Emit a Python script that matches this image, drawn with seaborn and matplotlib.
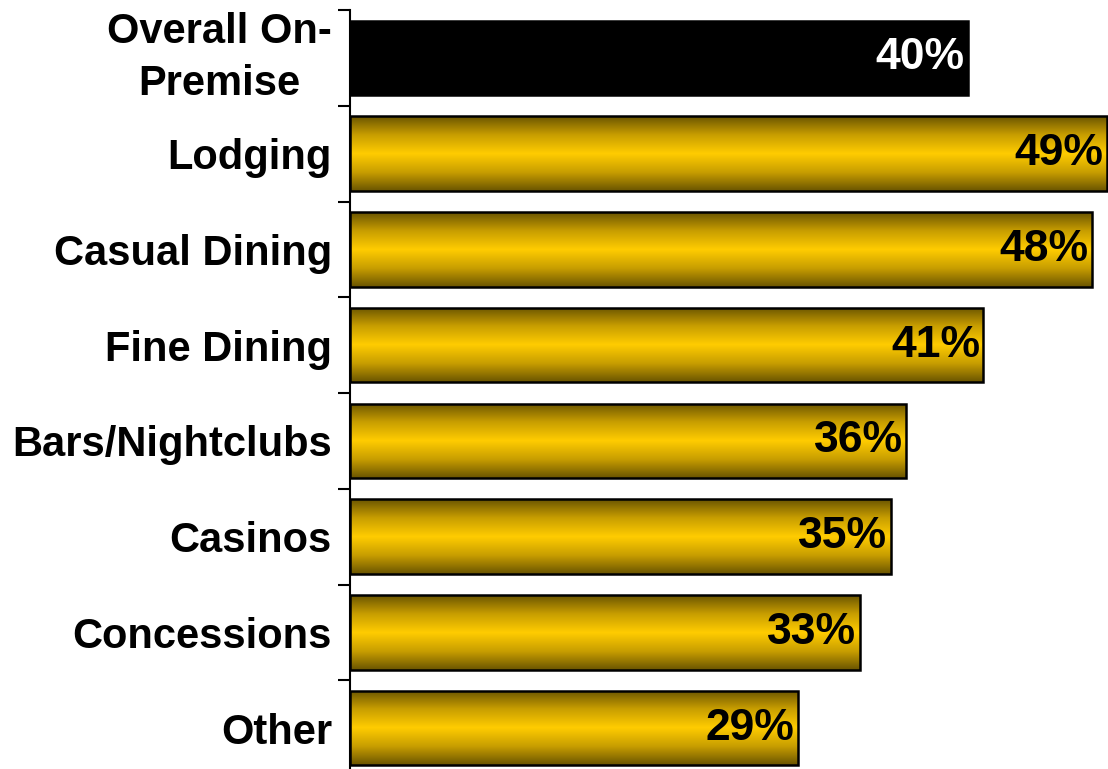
import matplotlib
matplotlib.use("Agg")
import matplotlib.pyplot as plt
import numpy as np
import pandas as pd
import seaborn as sns
from matplotlib.colors import LinearSegmentedColormap

categories = ["Overall On-\nPremise", "Lodging", "Casual Dining", "Fine Dining",
              "Bars/Nightclubs", "Casinos", "Concessions", "Other"]
values = [40, 49, 48, 41, 36, 35, 33, 29]
value_labels = ["40%", "49%", "48%", "41%", "36%", "35%", "33%", "29%"]

df = pd.DataFrame({"segment": categories, "pct": values})

sns.set_theme(style="white")
plt.rcParams["font.family"] = ["Liberation Sans", "DejaVu Sans"]

fig = plt.figure(figsize=(11.08, 7.69), dpi=100)
ax = fig.add_axes([350 / 1108, -7 / 769, 1 - 350 / 1108, 766 / 769])

sns.barplot(data=df, x="pct", y="segment", order=categories, orient="h",
            color="#FFCC00", width=0.78, edgecolor="black", linewidth=1.8, ax=ax)

# metallic gold shading: dark at top and bottom, bright in the middle
gold = LinearSegmentedColormap.from_list(
    "gold", ["#6a5400", "#c89e00", "#ffcc00", "#c89e00", "#6a5400"])
grad = np.linspace(0, 1, 256).reshape(-1, 1)

for i, patch in enumerate(ax.patches):
    x0, y0 = patch.get_x(), patch.get_y()
    w, h = patch.get_width(), patch.get_height()
    if i == 0:
        patch.set_facecolor("black")
        continue
    im = ax.imshow(grad, cmap=gold, aspect="auto", interpolation="bilinear",
                   extent=[x0, x0 + w, y0 + h, y0], zorder=patch.get_zorder() - 0.1)
    im.set_clip_path(patch)
    patch.set_facecolor("none")
    patch.set_zorder(patch.get_zorder() + 0.2)

for i, (v, lab) in enumerate(zip(values, value_labels)):
    ax.annotate(lab, xy=(v, i), xytext=(-2.5, 0), textcoords="offset points",
                ha="right", va="center", fontsize=32, fontweight="bold",
                color="white" if i == 0 else "black", zorder=10)

ax.set_xlim(0, 49.06)
ax.set_ylim(len(categories) - 0.5, -0.5)
ax.set_xlabel("")
ax.set_ylabel("")
ax.set_xticks([])

for side in ["top", "right", "bottom"]:
    ax.spines[side].set_visible(False)
ax.spines["left"].set_linewidth(1.5)
ax.spines["left"].set_color("black")

ax.set_yticks(range(len(categories)))
ax.set_yticklabels(categories, fontsize=30, fontweight="bold", color="black",
                   multialignment="center", linespacing=1.4)
for t in ax.get_yticklabels():
    if "\n" in t.get_text():
        t.set_verticalalignment("center")
ax.tick_params(axis="y", which="major", length=0, pad=13)
ax.set_yticks(np.arange(-0.5, len(categories), 1.0), minor=True)
ax.tick_params(axis="y", which="minor", left=True, length=9, width=1.5, color="black")

fig.savefig("out.png", dpi=100)
